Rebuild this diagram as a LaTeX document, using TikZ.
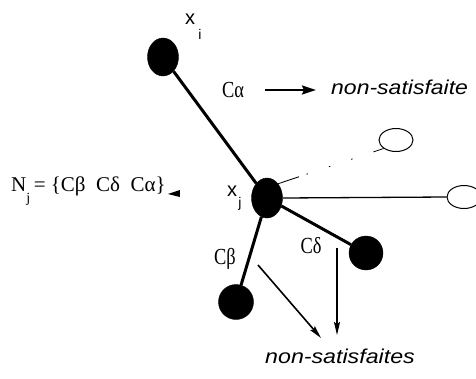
\documentclass[tikz,border=0pt]{standalone}
\usepackage{fontspec}
\setmainfont{Liberation Serif}
\newfontfamily\sfit{Liberation Sans}
\usetikzlibrary{arrows.meta,shapes.geometric}
\newcommand{\squeezed}[1]{\scalebox{0.8}[1]{#1}}
\tikzset{
  fullnode/.style={ellipse,fill=black,draw=black,inner sep=0pt},
  hollownode/.style={ellipse,draw=black,line width=1pt,fill=white,inner sep=0pt,minimum width=34pt,minimum height=23pt},
  edge/.style={line width=3pt},
  arrowbig/.style={line width=2.6pt,-{Stealth[length=14pt,width=9pt,inset=2pt]}},
  arrowthin/.style={line width=1.6pt,-{Stealth[length=13pt,width=6pt,inset=2pt]}},
  nsat/.style={font={\sfit\itshape\fontsize{20}{22}\selectfont},inner sep=0pt},
  clab/.style={font={\fontsize{23}{25}\selectfont},inner sep=0pt},
  xlab/.style={font={\sfit\fontsize{20}{22}\selectfont},inner sep=0pt},
  sublab/.style={font={\sfit\fontsize{14}{16}\selectfont},inner sep=0pt}
}
\begin{document}
\begin{tikzpicture}[x=1pt,y=-1pt]
\useasboundingbox[fill=white] (0,0) rectangle (476,378);
% main nodes
\node[fullnode,minimum width=31pt,minimum height=38pt] (xi) at (163,57) {};
\node[fullnode,minimum width=31pt,minimum height=40pt] (xj) at (267,198) {};
\node[fullnode,minimum width=34pt,minimum height=34pt] (br) at (366,253) {};
\node[fullnode,minimum width=35pt,minimum height=35pt] (bl) at (236,302) {};
\node[hollownode] (h1) at (396,140) {};
\node[hollownode] (h2) at (464,197) {};
% edges
\draw[edge] (xi) -- (xj);
\draw[edge] (xj) -- (br);
\draw[edge] (xj) -- (bl);
\draw[line width=1.3pt] (xj.east) -- (h2.west);
\draw[line width=0.8pt,dash pattern=on 22pt off 8pt on 1.5pt off 22pt on 1.5pt off 22pt on 1.5pt off 22pt] (xj.north east) -- (h1.south west);
% labels of nodes
\node[xlab] (lxi) at (190,19) {x};
\node[sublab] (lxisub) at (200,34) {i};
\node[xlab] (lxj) at (232,191) {x};
\node[sublab] (lxjsub) at (240,204) {j};
% constraint labels
\node[clab] (ca) at (233,90) {\squeezed{Cα}};
\node[clab] (cb) at (225,259) {\squeezed{Cβ}};
\node[clab] (cd) at (311,246) {\squeezed{Cδ}};
% arrows and texts
\node[nsat,anchor=west] (ns1) at (331,87) {\scalebox{1.15}[1]{non-satisfaite}};
\coordinate (a1s) at (265,90);
\coordinate (a1e) at (316,90);
\draw[arrowbig] (a1s) -- (a1e);
\node[nsat] (ns2) at (340,356) {\scalebox{1.16}[1]{non-satisfaites}};
\coordinate (a2s) at (258,265);
\coordinate (a2e) at (321,338);
\coordinate (a3s) at (337,248);
\coordinate (a3e) at (337,335);
\draw[arrowthin] (a2s) -- (a2e);
\draw[arrowthin] (a3s) -- (a3e);
% N_j set
\node[anchor=base west,inner sep=0pt,font={\fontsize{21}{24}\selectfont}] (nj) at (11,191) {N\raisebox{-11pt}{\fontsize{14}{16}\selectfont j}\,= \{Cβ~ Cδ~ Cα\}};
\fill ([xshift=2pt,yshift=-3pt]nj.base east) -- ++(12,-4) -- ++(0,7) -- cycle;
\end{tikzpicture}
\end{document}
